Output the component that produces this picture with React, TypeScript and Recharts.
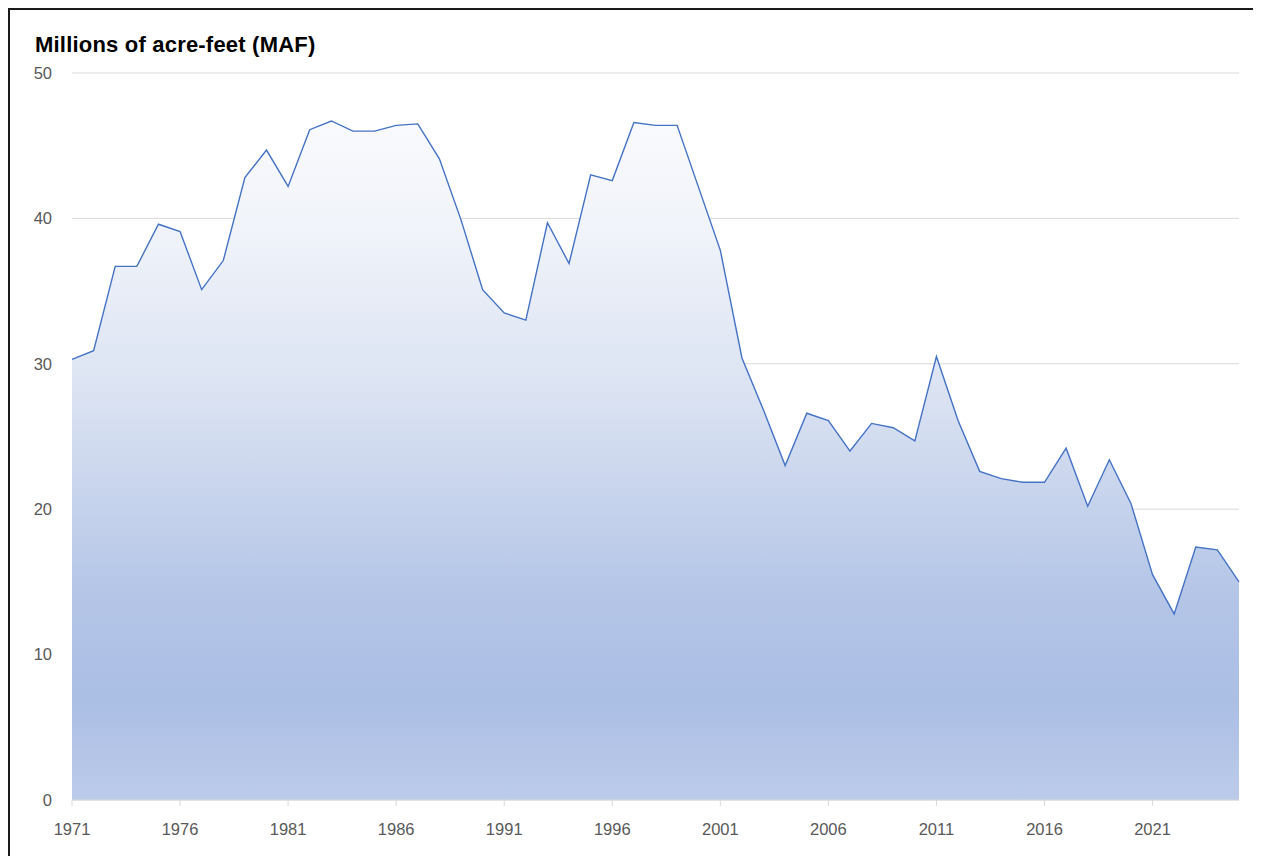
import React from "react";
import { AreaChart, Area, XAxis, YAxis, CartesianGrid } from "recharts";

const years: number[] = [
  1971, 1972, 1973, 1974, 1975, 1976, 1977, 1978, 1979, 1980,
  1981, 1982, 1983, 1984, 1985, 1986, 1987, 1988, 1989, 1990,
  1991, 1992, 1993, 1994, 1995, 1996, 1997, 1998, 1999, 2000,
  2001, 2002, 2003, 2004, 2005, 2006, 2007, 2008, 2009, 2010,
  2011, 2012, 2013, 2014, 2015, 2016, 2017, 2018, 2019, 2020,
  2021, 2022, 2023, 2024, 2025,
];

const storage: number[] = [
  30.3, 30.9, 36.7, 36.7, 39.6, 39.1, 35.1, 37.1, 42.8, 44.7,
  42.2, 46.1, 46.7, 46.0, 46.0, 46.4, 46.5, 44.1, 39.9, 35.1,
  33.5, 33.0, 39.7, 36.9, 43.0, 42.6, 46.6, 46.4, 46.4, 42.1,
  37.8, 30.4, 26.8, 23.0, 26.6, 26.1, 24.0, 25.9, 25.6, 24.7,
  30.5, 26.1, 22.6, 22.1, 21.85, 21.85, 24.2, 20.2, 23.4, 20.4,
  15.5, 12.8, 17.4, 17.2, 15.0,
];

const xTicks: number[] = [1971, 1976, 1981, 1986, 1991, 1996, 2001, 2006, 2011, 2016, 2021];
const yTicks: number[] = [0, 10, 20, 30, 40, 50];

const title = "Millions of acre-feet (MAF)";

const data = years.map((y, i) => ({ year: y, value: storage[i] }));

const tickStyle = { fill: "#595959", fontSize: 16.5, fontFamily: "'Liberation Sans', Arial, sans-serif" };

export default function App() {
  return (
    <div
      style={{
        position: "relative",
        width: 1253,
        height: 848,
        borderTop: "2px solid #1a1a1a",
        borderLeft: "2px solid #1a1a1a",
        boxSizing: "border-box",
        background: "#fff",
        overflow: "hidden",
      }}
    >
      <div
        style={{
          position: "absolute",
          left: 25,
          top: 22,
          fontFamily: "'Liberation Sans', Arial, sans-serif",
          fontWeight: 700,
          fontSize: 22,
          letterSpacing: 0.2,
          color: "#000",
          whiteSpace: "nowrap",
        }}
      >
        {title}
      </div>
      <AreaChart
        width={1251}
        height={846}
        data={data}
        margin={{ top: 63, right: 22, bottom: 16, left: 22 }}
      >
        <defs>
          <linearGradient id="fillGrad" x1="0" y1="0" x2="0" y2="1">
            <stop offset="0" stopColor="#f9fafd" />
            <stop offset="0.15" stopColor="#f1f4fa" />
            <stop offset="0.41" stopColor="#dae2f2" />
            <stop offset="0.7" stopColor="#b4c5e7" />
            <stop offset="0.85" stopColor="#abbee4" />
            <stop offset="1" stopColor="#bccbea" />
          </linearGradient>
        </defs>
        <CartesianGrid vertical={false} stroke="#d9d9d9" strokeWidth={1} />
        <XAxis
          dataKey="year"
          type="number"
          domain={[1971, 2025]}
          ticks={xTicks}
          interval={0}
          height={40}
          axisLine={{ stroke: "#d9d9d9" }}
          tickLine={{ stroke: "#d9d9d9" }}
          tickSize={6}
          tickMargin={17}
          tick={tickStyle}
        />
        <YAxis
          type="number"
          domain={[0, 50]}
          ticks={yTicks}
          width={40}
          axisLine={false}
          tickLine={false}
          tickSize={0}
          tickMargin={20}
          tick={tickStyle}
        />
        <Area
          type="linear"
          dataKey="value"
          stroke="#4472c4"
          strokeWidth={1.4}
          fill="url(#fillGrad)"
          fillOpacity={1}
          isAnimationActive={false}
          dot={false}
          activeDot={false}
        />
      </AreaChart>
    </div>
  );
}
